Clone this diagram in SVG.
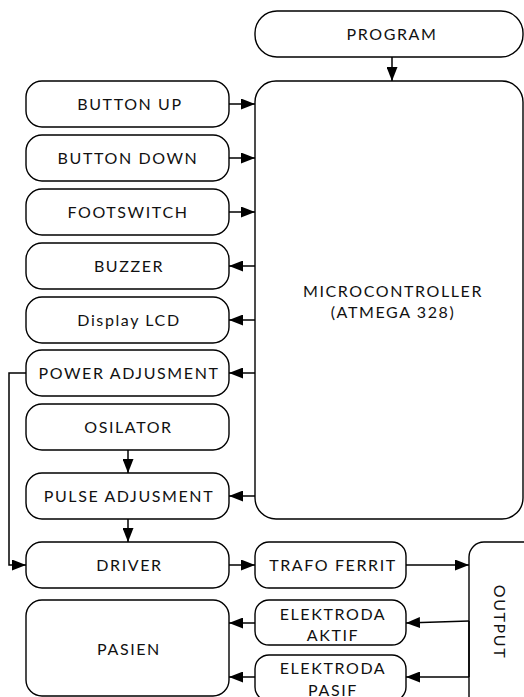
<svg xmlns="http://www.w3.org/2000/svg" width="524" height="697" viewBox="0 0 524 697">
<style>
.box{fill:#fff;stroke:#000;stroke-width:1.4}
.t{font-family:Lato,"Open Sans","Liberation Sans",sans-serif;font-size:16px;letter-spacing:1.6px;text-anchor:middle;fill:#111}
.c{fill:none;stroke:#000;stroke-width:1.5}
</style>
<defs>
<marker id="ah" markerUnits="userSpaceOnUse" markerWidth="14" markerHeight="11" refX="14" refY="5.5" orient="auto">
<path d="M0,0 L14,5.5 L0,11 z" fill="#000"/>
</marker>
</defs>
<rect width="524" height="697" fill="#fff"/>
<g id="program"><rect class="box" x="255" y="11" width="268" height="46" rx="22"/><text class="t" x="392" y="39.8">PROGRAM</text></g>
<g id="microcontroller"><rect class="box" x="255" y="81" width="268" height="438" rx="21"/><text class="t" x="393" y="296.5">MICROCONTROLLER</text><text class="t" x="393" y="317.5">(ATMEGA 328)</text></g>
<g id="button-up"><rect class="box" x="26" y="81" width="203" height="46" rx="16"/><text class="t" x="130" y="109.8">BUTTON UP</text></g>
<g id="button-down"><rect class="box" x="26" y="135" width="203" height="46" rx="16"/><text class="t" x="128" y="163.8">BUTTON DOWN</text></g>
<g id="footswitch"><rect class="box" x="26" y="189" width="203" height="46" rx="16"/><text class="t" x="128" y="217.8">FOOTSWITCH</text></g>
<g id="buzzer"><rect class="box" x="26" y="243" width="203" height="46" rx="16"/><text class="t" x="129" y="271.8">BUZZER</text></g>
<g id="display-lcd"><rect class="box" x="26" y="297" width="203" height="46" rx="16"/><text class="t" x="129" y="325.8">Display LCD</text></g>
<g id="power-adjusment"><rect class="box" x="26" y="350" width="203" height="46" rx="16"/><text class="t" x="129" y="378.8">POWER ADJUSMENT</text></g>
<g id="osilator"><rect class="box" x="26" y="404" width="203" height="46" rx="16"/><text class="t" x="128.5" y="432.8">OSILATOR</text></g>
<g id="pulse-adjusment"><rect class="box" x="26" y="473" width="203" height="46" rx="16"/><text class="t" x="129" y="501.8">PULSE ADJUSMENT</text></g>
<g id="driver"><rect class="box" x="26" y="542" width="203" height="46" rx="16"/><text class="t" x="129.5" y="570.8">DRIVER</text></g>
<g id="pasien"><rect class="box" x="26" y="600" width="203" height="96" rx="16"/><text class="t" x="129" y="655">PASIEN</text></g>
<g id="trafo-ferrit"><rect class="box" x="255" y="542" width="151" height="46" rx="14"/><text class="t" x="333" y="570.8">TRAFO FERRIT</text></g>
<g id="elektroda-aktif"><rect class="box" x="255" y="600" width="151" height="45" rx="14"/><text class="t" x="333" y="619.5">ELEKTRODA</text><text class="t" x="333" y="641">AKTIF</text></g>
<g id="elektroda-pasif"><rect class="box" x="255" y="655" width="151" height="46" rx="14"/><text class="t" x="333" y="674">ELEKTRODA</text><text class="t" x="333" y="695.5">PASIF</text></g>
<g id="output"><rect class="box" x="469" y="542" width="70" height="170" rx="15"/><text class="t" transform="translate(494.3,622) rotate(90)" x="0" y="0">OUTPUT</text></g>
<g id="connectors">
<path class="c" d="M392,57 V81" marker-end="url(#ah)"/>
<path class="c" d="M229,104 H255" marker-end="url(#ah)"/>
<path class="c" d="M229,158 H255" marker-end="url(#ah)"/>
<path class="c" d="M229,212 H255" marker-end="url(#ah)"/>
<path class="c" d="M255,266 H229" marker-end="url(#ah)"/>
<path class="c" d="M255,320 H229" marker-end="url(#ah)"/>
<path class="c" d="M255,373 H229" marker-end="url(#ah)"/>
<path class="c" d="M255,496 H229" marker-end="url(#ah)"/>
<path class="c" d="M128,450 V473" marker-end="url(#ah)"/>
<path class="c" d="M128,519 V542" marker-end="url(#ah)"/>
<path class="c" d="M26,373 H9 V565 H26" marker-end="url(#ah)"/>
<path class="c" d="M229,565 H255" marker-end="url(#ah)"/>
<path class="c" d="M406,565 H469" marker-end="url(#ah)"/>
<path class="c" d="M469,621 V677"/>
<path class="c" d="M469,621 L406,623" marker-end="url(#ah)"/>
<path class="c" d="M469,677 H406" marker-end="url(#ah)"/>
<path class="c" d="M255,623 H229" marker-end="url(#ah)"/>
<path class="c" d="M255,677 H229" marker-end="url(#ah)"/>
</g>
</svg>
